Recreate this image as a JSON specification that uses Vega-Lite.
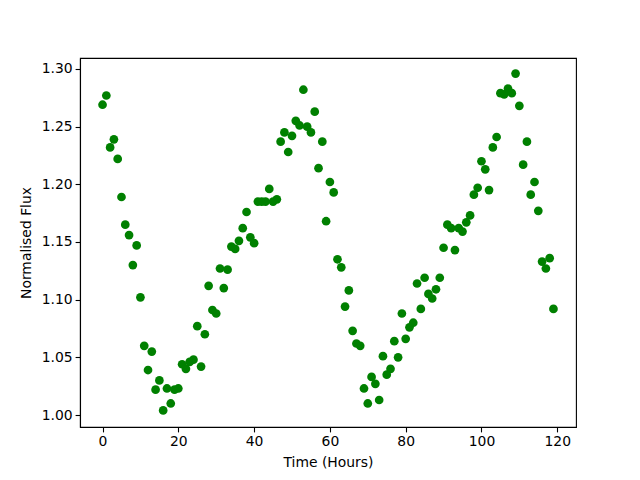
{
  "$schema": "https://vega.github.io/schema/vega-lite/v6.json",
  "autosize": {"type": "none"},
  "padding": {"left": 80, "top": 58, "right": 64, "bottom": 53},
  "width": 496,
  "height": 369,
  "background": "white",
  "config": {
    "view": {"stroke": "black", "strokeWidth": 1.1},
    "axis": {
      "grid": false,
      "domainColor": "black",
      "domainWidth": 1.1,
      "tickColor": "black",
      "tickWidth": 1.1,
      "tickSize": 4.9,
      "labelFont": "DejaVu Sans",
      "labelFontSize": 13.9,
      "labelColor": "black",
      "labelPadding": 3,
      "titleFont": "DejaVu Sans",
      "titleFontSize": 13.9,
      "titleFontWeight": "normal",
      "titleColor": "black"
    }
  },
  "data": {
    "values": [
      {"h":0,"f":1.269},{"h":1,"f":1.277},{"h":2,"f":1.232},{"h":3,"f":1.239},{"h":4,"f":1.222},
      {"h":5,"f":1.189},{"h":6,"f":1.165},{"h":7,"f":1.156},{"h":8,"f":1.130},{"h":9,"f":1.147},
      {"h":10,"f":1.102},{"h":11,"f":1.060},{"h":12,"f":1.039},{"h":13,"f":1.055},{"h":14,"f":1.022},
      {"h":15,"f":1.030},{"h":16,"f":1.004},{"h":17,"f":1.023},{"h":18,"f":1.010},{"h":19,"f":1.022},
      {"h":20,"f":1.023},{"h":21,"f":1.044},{"h":22,"f":1.040},{"h":23,"f":1.046},{"h":24,"f":1.048},
      {"h":25,"f":1.077},{"h":26,"f":1.042},{"h":27,"f":1.070},{"h":28,"f":1.112},{"h":29,"f":1.091},
      {"h":30,"f":1.088},{"h":31,"f":1.127},{"h":32,"f":1.110},{"h":33,"f":1.126},{"h":34,"f":1.146},
      {"h":35,"f":1.144},{"h":36,"f":1.151},{"h":37,"f":1.162},{"h":38,"f":1.176},{"h":39,"f":1.154},
      {"h":40,"f":1.149},{"h":41,"f":1.185},{"h":42,"f":1.185},{"h":43,"f":1.185},{"h":44,"f":1.196},
      {"h":45,"f":1.185},{"h":46,"f":1.187},{"h":47,"f":1.237},{"h":48,"f":1.245},{"h":49,"f":1.228},
      {"h":50,"f":1.242},{"h":51,"f":1.255},{"h":52,"f":1.251},{"h":53,"f":1.282},{"h":54,"f":1.250},
      {"h":55,"f":1.245},{"h":56,"f":1.263},{"h":57,"f":1.214},{"h":58,"f":1.237},{"h":59,"f":1.168},
      {"h":60,"f":1.202},{"h":61,"f":1.193},{"h":62,"f":1.135},{"h":63,"f":1.128},{"h":64,"f":1.094},
      {"h":65,"f":1.108},{"h":66,"f":1.073},{"h":67,"f":1.062},{"h":68,"f":1.060},{"h":69,"f":1.023},
      {"h":70,"f":1.010},{"h":71,"f":1.033},{"h":72,"f":1.027},{"h":73,"f":1.013},{"h":74,"f":1.051},
      {"h":75,"f":1.035},{"h":76,"f":1.040},{"h":77,"f":1.064},{"h":78,"f":1.050},{"h":79,"f":1.088},
      {"h":80,"f":1.066},{"h":81,"f":1.076},{"h":82,"f":1.080},{"h":83,"f":1.114},{"h":84,"f":1.092},
      {"h":85,"f":1.119},{"h":86,"f":1.105},{"h":87,"f":1.101},{"h":88,"f":1.109},{"h":89,"f":1.119},
      {"h":90,"f":1.145},{"h":91,"f":1.165},{"h":92,"f":1.162},{"h":93,"f":1.143},{"h":94,"f":1.162},
      {"h":95,"f":1.159},{"h":96,"f":1.167},{"h":97,"f":1.173},{"h":98,"f":1.191},{"h":99,"f":1.197},
      {"h":100,"f":1.220},{"h":101,"f":1.213},{"h":102,"f":1.195},{"h":103,"f":1.232},{"h":104,"f":1.241},
      {"h":105,"f":1.279},{"h":106,"f":1.278},{"h":107,"f":1.283},{"h":108,"f":1.279},{"h":109,"f":1.296},
      {"h":110,"f":1.268},{"h":111,"f":1.217},{"h":112,"f":1.237},{"h":113,"f":1.191},{"h":114,"f":1.202},
      {"h":115,"f":1.177},{"h":116,"f":1.133},{"h":117,"f":1.127},{"h":118,"f":1.136},{"h":119,"f":1.092}
    ]
  },
  "mark": {"type": "circle", "color": "#008000", "opacity": 1, "size": 76},
  "encoding": {
    "x": {
      "field": "h", "type": "quantitative",
      "scale": {"domain": [-5.95, 124.95], "nice": false, "zero": false},
      "axis": {"values": [0, 20, 40, 60, 80, 100, 120], "title": "Time (Hours)", "titlePadding": 7}
    },
    "y": {
      "field": "f", "type": "quantitative",
      "scale": {"domain": [0.9896, 1.3095], "nice": false, "zero": false},
      "axis": {"values": [1.0, 1.05, 1.1, 1.15, 1.2, 1.25, 1.3], "format": ".2f", "title": "Normalised Flux", "titlePadding": 8}
    }
  }
}
